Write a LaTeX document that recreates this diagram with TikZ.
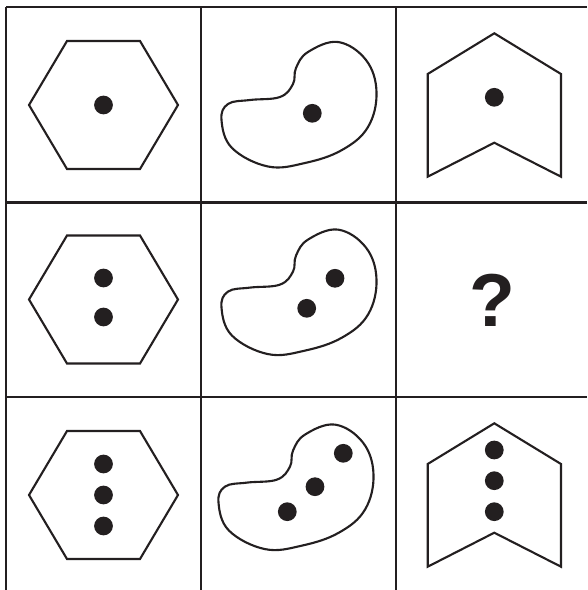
\documentclass[tikz,border=0pt]{standalone}
\usepackage{fontspec}
\newfontfamily\puzzlefont{Liberation Sans}
\definecolor{inkblack}{RGB}{35,31,32}

\begin{document}
\begin{tikzpicture}[x=0.03cm, y=-0.03cm,
    gridline/.style={draw=inkblack, line width=2.4pt},
    outline/.style={draw=inkblack, line width=1.8pt, line join=miter},
    dot/.style={fill=inkblack},
    qmark/.style={font=\puzzlefont\bfseries\fontsize{64}{70}\selectfont,
                  text=inkblack, inner sep=0pt}
  ]
    \useasboundingbox (0,0) rectangle (587,590);

    % grid
    \draw[gridline] (6,7) -- (587,7);
    \draw[gridline] (6,202.5) -- (587,202.5);
    \draw[gridline] (6,397) -- (587,397);
    \foreach \x in {6,201,396}
      \draw[gridline] (\x,7) -- (\x,590);

    % column 1: hexagons
    \foreach \y in {105,299.5,495}
      \draw[outline] (103.5,\y) ++(-74.5,0) -- ++(38,-64) -- ++(73,0)
        -- ++(38,64) -- ++(-38,64) -- ++(-73,0) -- cycle;
    \fill[dot] (103.5,105) circle[radius=8pt];
    \fill[dot] (103.5,278) circle[radius=8pt];
    \fill[dot] (103.5,317) circle[radius=8pt];
    \foreach \y in {464,495,526}
      \fill[dot] (103.5,\y) circle[radius=8pt];

    % column 2: beans
    \foreach \dx/\dy in {0/0, 0/187.6, -3/382.6}
      \draw[outline, shift={(\dx,\dy)}] plot[smooth cycle, tension=0.65] coordinates {
        (338,42) (308,52) (296,68) (293,84) (280,97) (250,100)
        (228,104) (221.5,120) (232,148) (268,166.5) (305,163)
        (342,150) (368,127) (376.5,92) (366,60)};
    \fill[dot] (312.3,113.3) circle[radius=8pt];
    \fill[dot] (335,278.3) circle[radius=8pt];
    \fill[dot] (306.7,308.3) circle[radius=8pt];
    \fill[dot] (343.3,453.3) circle[radius=8pt];
    \fill[dot] (315,486.7) circle[radius=8pt];
    \fill[dot] (287.3,511.7) circle[radius=8pt];

    % column 3: chevrons and the missing cell
    \foreach \y in {33.3,423.3}
      \draw[outline] (494.3,\y) -- ++(66.7,40.7) -- ++(0,102.7) -- ++(-66.7,-34)
        -- ++(-66.6,34) -- ++(0,-102.7) -- cycle;
    \fill[dot] (494.3,97.3) circle[radius=8pt];
    \foreach \y in {450,480.7,511.7}
      \fill[dot] (494.3,\y) circle[radius=8pt];
    \node[qmark] (missing) at (492,300) {?};
\end{tikzpicture}
\end{document}
